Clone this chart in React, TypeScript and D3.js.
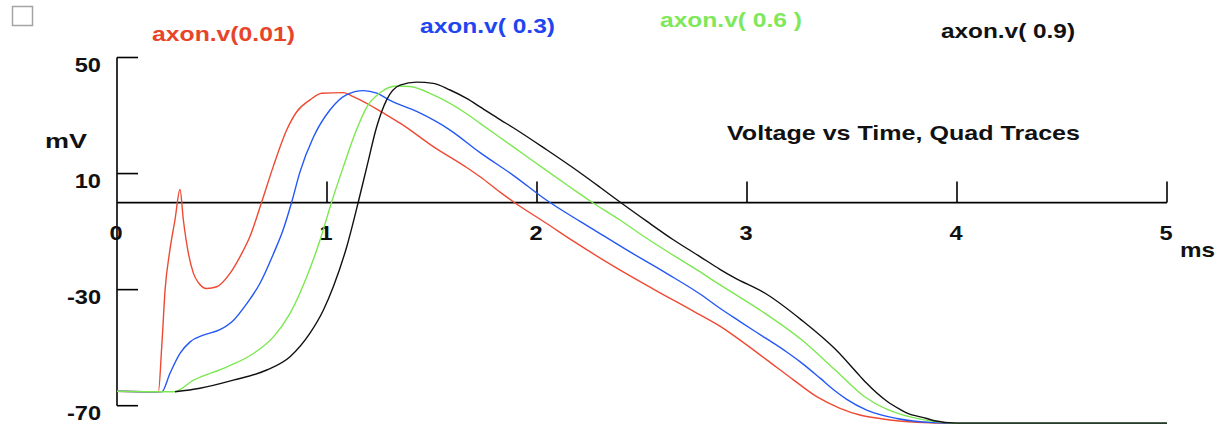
import React from "react";
import * as d3 from "d3";

type P = [number, number];

const xTicks = [0, 1, 2, 3, 4, 5];
const yTicks = [50, 10, -30, -70];

const seriesNames = ["axon.v(0.01)", "axon.v( 0.3)", "axon.v( 0.6 )", "axon.v( 0.9)"];

const red: P[] = [
  [0, -65], [0.197, -65.2], [0.213, -49.7], [0.229, -30.1], [0.252, -16.3], [0.276, -6], [0.3, 4.5],
  [0.316, -6], [0.34, -17.5], [0.364, -24.4], [0.39, -27.8], [0.427, -29.6], [0.475, -29], [0.538, -24.4],
  [0.586, -18.6], [0.633, -11.7], [0.689, 0.2], [0.744, 12.4], [0.808, 25], [0.856, 31.3], [0.919, 35.4],
  [0.975, 37.7], [1.078, 37.9], [1.125, 36.5], [1.189, 34.2], [1.27, 30.8], [1.35, 27.3], [1.506, 19.3],
  [1.665, 12.1], [1.729, 8.9], [1.824, 3.6], [1.887, 0.3], [2.046, -7.2], [2.173, -13.3], [2.364, -21.9],
  [2.554, -29.8], [2.744, -37.4], [2.871, -42.6], [2.967, -47.4], [3.094, -54.2], [3.221, -61.1],
  [3.332, -66.9], [3.443, -70.9], [3.538, -73.2], [3.633, -74.4], [3.808, -75.7], [4.0, -76], [5, -76],
];

const blue: P[] = [
  [0, -65], [0.213, -65.2], [0.252, -58.9], [0.3, -52], [0.348, -48], [0.411, -45.7], [0.49, -43.8],
  [0.554, -40.6], [0.617, -34.9], [0.681, -27.8], [0.744, -17.8], [0.792, -9.2], [0.832, 0.2], [0.871, 10.5],
  [0.935, 22.5], [1.014, 31.9], [1.092, 37.1], [1.173, 38.6], [1.237, 37.7], [1.3, 35.2], [1.427, 31.4],
  [1.586, 25], [1.729, 17.2], [1.887, 9.4], [2.046, 0.8], [2.205, -6.5], [2.33, -12], [2.427, -16.3],
  [2.617, -24.4], [2.776, -31.5], [2.871, -36.4], [2.967, -41], [3.03, -44], [3.189, -51.5],
  [3.252, -54.8], [3.348, -60.5], [3.411, -64.4], [3.475, -67.8], [3.57, -71.5], [3.713, -74.4],
  [3.887, -75.8], [4.0, -76], [5, -76],
];

const green: P[] = [
  [0, -65], [0.27, -65.2], [0.365, -61.2], [0.524, -56.6], [0.65, -52], [0.746, -46.2], [0.824, -38.2],
  [0.904, -25.5], [0.967, -12.9], [1.022, 0.2], [1.078, 12.4], [1.14, 25], [1.19, 33], [1.25, 37.7],
  [1.33, 40.2], [1.395, 40], [1.506, 37.1], [1.665, 30.6], [1.729, 27.3], [1.887, 19.2], [2.046, 11],
  [2.16, 5.2], [2.26, 0.2], [2.395, -6], [2.522, -12.3], [2.681, -19.6], [2.776, -23.8],
  [2.84, -26.9], [2.935, -31.2], [3.078, -37.8], [3.26, -47.3], [3.42, -57.7], [3.56, -66.9],
  [3.665, -71.2], [3.729, -72.9], [3.792, -74.1], [3.887, -75.4], [4.0, -76], [5, -76],
];

const black: P[] = [
  [0.276, -65.2], [0.395, -64], [0.554, -61.2], [0.713, -57.7], [0.824, -53.1], [0.919, -45],
  [0.983, -37], [1.03, -29], [1.094, -15.2], [1.149, 0.2], [1.19, 12.4], [1.237, 26.2], [1.284, 35.4],
  [1.348, 40.5], [1.427, 41.5], [1.506, 41.1], [1.586, 38.8], [1.665, 35.9], [1.729, 33], [1.824, 28.6],
  [1.887, 25.8], [2.046, 18.2], [2.205, 10.3], [2.3, 5.3], [2.395, 0.2], [2.522, -6.4], [2.649, -12.8],
  [2.776, -18.6], [2.871, -23], [2.935, -25.7], [3.094, -31.6], [3.26, -40.5], [3.42, -50.5],
  [3.538, -59.8], [3.57, -62.3], [3.665, -68.4], [3.729, -71.3], [3.76, -72.5], [3.856, -74.4],
  [3.887, -75.1], [4.0, -76], [5, -76],
];

const seriesData = [red, blue, green, black];
const lineColors = ["#ee4a32", "#2458f5", "#7ce850", "#111111"];
const labelColors = ["#e8442a", "#1f45f0", "#7ee85a", "#111111"];
// label layout: [x, baseline, textLength]
const labelPos: [number, number, number][] = [
  [152, 41, 143],
  [420, 33, 135],
  [660, 27, 142],
  [941, 38, 134],
];

const FONT = "'Liberation Sans', Arial, Helvetica, sans-serif";

export default function App() {
  const x = d3.scaleLinear().domain([0, 5]).range([117, 1167]);
  const y = d3.scaleLinear().domain([50, -70]).range([57.5, 405.7]);
  const line = d3
    .line<P>()
    .x((d) => x(d[0]))
    .y((d) => y(d[1]))
    .curve(d3.curveMonotoneX);

  const y0 = y(0);

  return (
    <svg
      width={1221}
      height={424}
      style={{ position: "absolute", left: 0, top: 0, background: "#fff" }}
      fontFamily={FONT}
      fontWeight="bold"
    >
      <rect x={0} y={0} width={1221} height={424} fill="#fff" />
      <rect x={12.5} y={6.5} width={20} height={19} fill="#fff" stroke="#a4a4a4" strokeWidth={1.5} />

      {/* y axis */}
      <line x1={x(0)} x2={x(0)} y1={y(50)} y2={y(-70)} stroke="#000" strokeWidth={1.6} />
      {yTicks.map((t) => (
        <g key={"yt" + t}>
          <line x1={x(0)} x2={x(0) + 21} y1={y(t)} y2={y(t)} stroke="#000" strokeWidth={1.6} />
          <text
            transform={`translate(101,${y(t) + 14}) scale(1.18,1)`}
            textAnchor="end"
            fontSize={20}
            fill="#111"
          >
            {t}
          </text>
        </g>
      ))}

      {/* x axis */}
      <line x1={x(0)} x2={x(5)} y1={y0} y2={y0} stroke="#000" strokeWidth={1.6} />
      {xTicks.map((t) => (
        <g key={"xt" + t}>
          {t > 0 && (
            <line x1={x(t)} x2={x(t)} y1={y0} y2={y0 - 21} stroke="#000" strokeWidth={1.6} />
          )}
          <text
            transform={`translate(${x(t) - 1},240) scale(1.18,1)`}
            textAnchor="middle"
            fontSize={20}
            fill="#111"
          >
            {t}
          </text>
        </g>
      ))}

      <text x={45} y={148} fontSize={21} textLength={42} lengthAdjust="spacingAndGlyphs" fill="#111">
        mV
      </text>
      <text x={1180} y={257} fontSize={21} textLength={35} lengthAdjust="spacingAndGlyphs" fill="#111">
        ms
      </text>
      <text x={727} y={140} fontSize={21} textLength={353} lengthAdjust="spacingAndGlyphs" fill="#111">
        Voltage vs Time, Quad Traces
      </text>

      {seriesNames.map((n, i) => (
        <text
          key={n}
          x={labelPos[i][0]}
          y={labelPos[i][1]}
          fontSize={21}
          textLength={labelPos[i][2]}
          lengthAdjust="spacingAndGlyphs"
          fill={labelColors[i]}
        >
          {n}
        </text>
      ))}

      {seriesData.map((d, i) => (
        <path key={i} d={line(d) || ""} fill="none" stroke={lineColors[i]} strokeWidth={1.4} />
      ))}
    </svg>
  );
}
